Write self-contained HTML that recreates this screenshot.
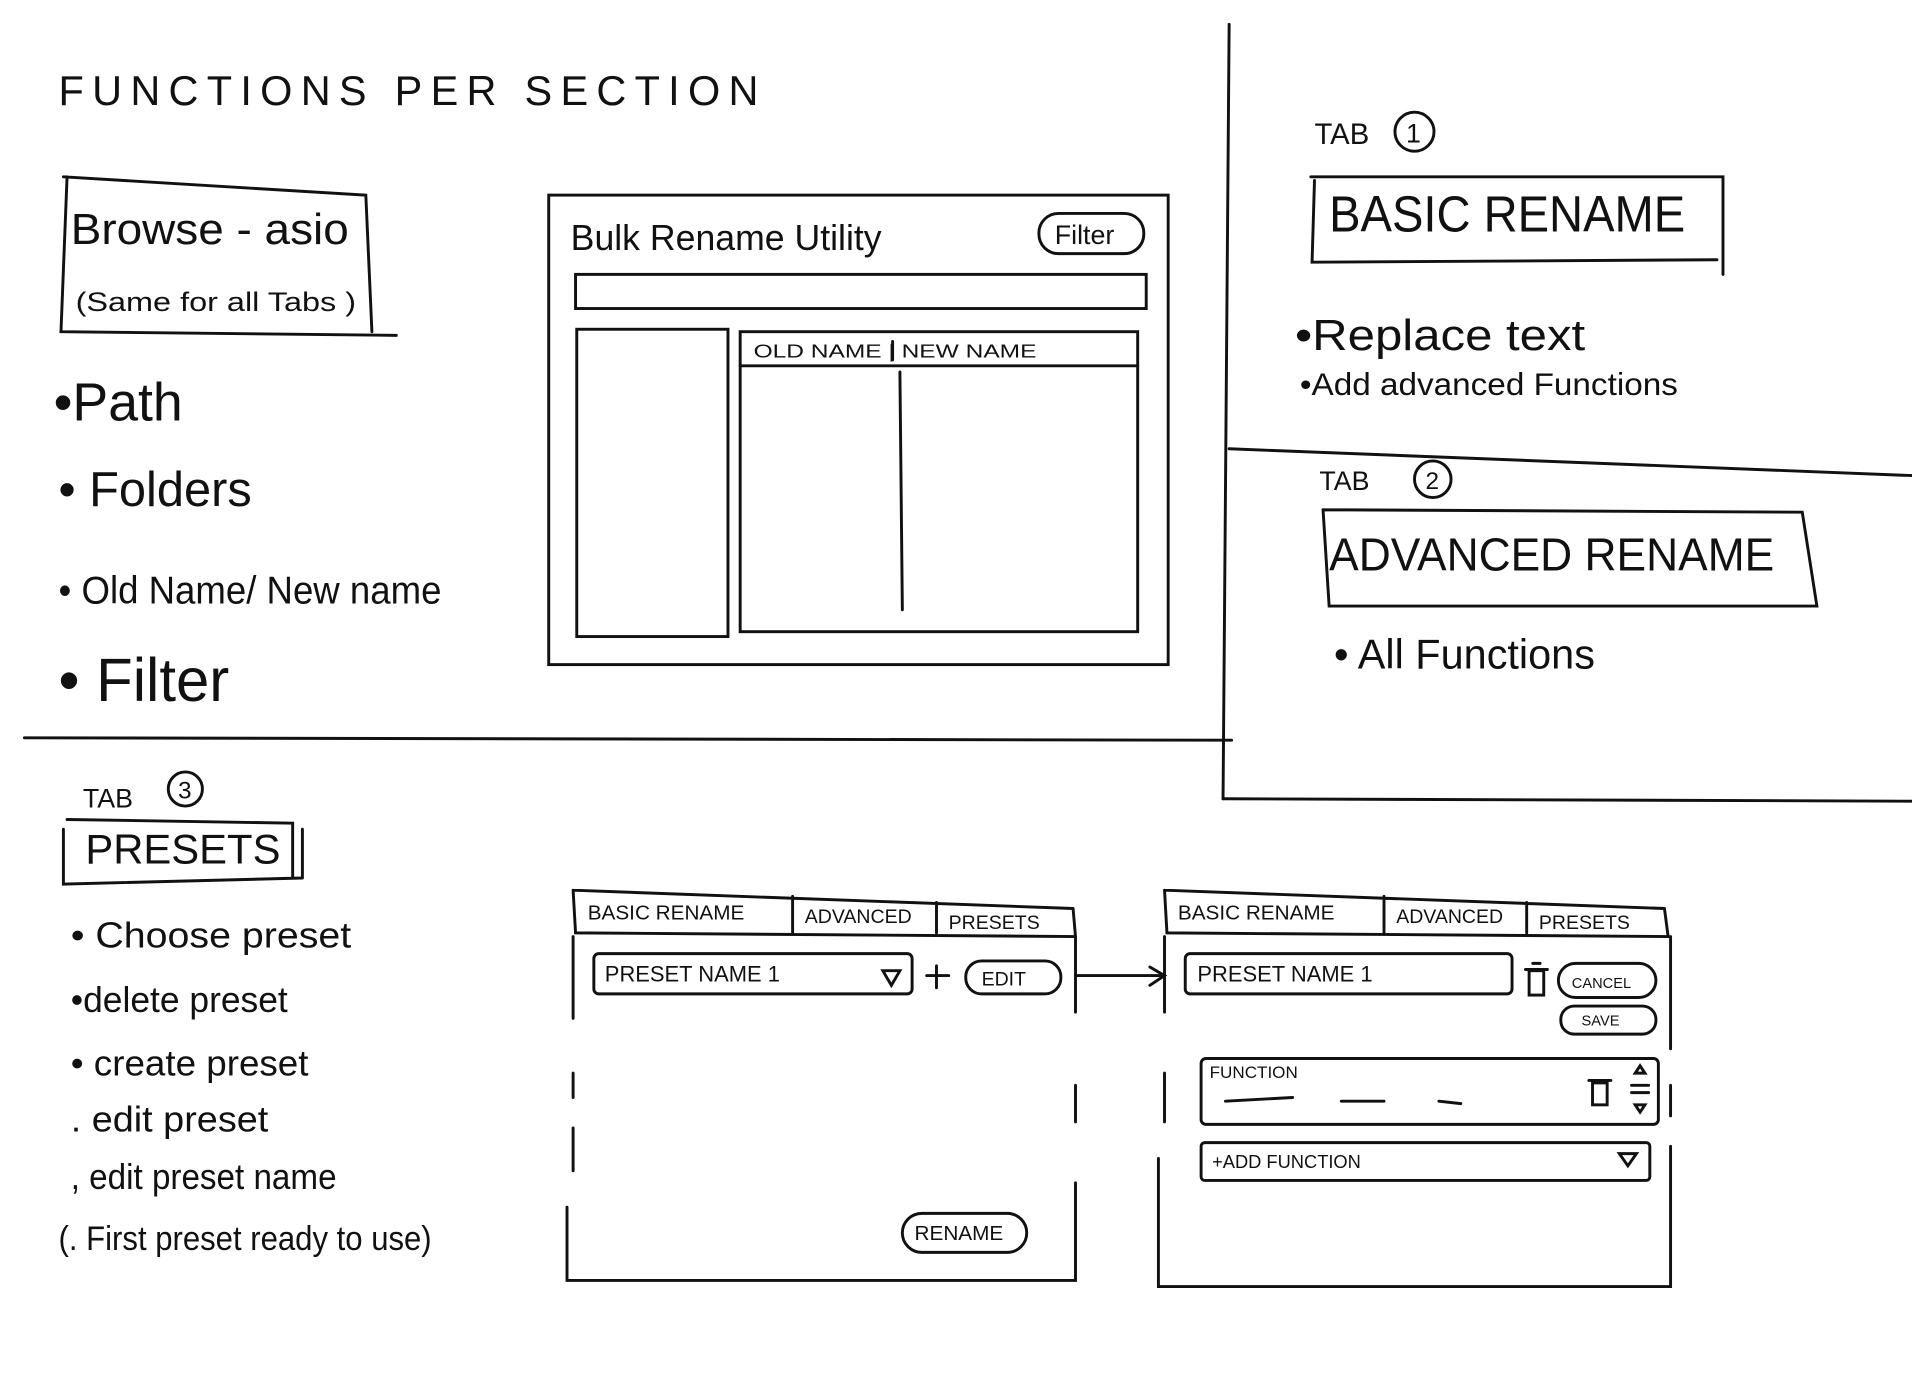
<!DOCTYPE html>
<html><head><meta charset="utf-8"><style>
html,body{margin:0;padding:0;background:#fff;width:1912px;height:1378px;overflow:hidden}
svg{display:block}
text{font-family:"Liberation Sans",sans-serif;fill:#111}
</style></head><body>
<svg width="1912" height="1378" viewBox="0 0 1568 1130" preserveAspectRatio="none" xmlns="http://www.w3.org/2000/svg">
<g fill="none" stroke="#111" stroke-width="2.4" stroke-linecap="round">
<path d="M1008 20 L1003 655"/>
<path d="M20 605 L1010 607"/>
<path d="M1003 655 L1568 657"/>
<path d="M1008 368 L1568 390"/>
<path d="M52 145 L300 160 L305 272 M55 145 L50 272 L325 275"/>
<rect x="450" y="160" width="508" height="385"/>
<rect x="852" y="175" width="86" height="33" rx="16"/>
<rect x="472" y="225" width="468" height="28"/>
<rect x="473" y="270" width="124" height="252"/>
<rect x="607" y="272" width="326" height="246"/>
<path d="M607 300 L933 300 M738 305 L740 500 M732 280 L732 295"/>
<circle cx="1160" cy="108" r="16"/>
<path d="M1075 145 L1413 145 L1413 225 M1078 148 L1076 215 L1408 213"/>
<circle cx="1175" cy="393" r="15"/>
<path d="M1085 418 L1478 420 L1490 497 L1090 497 L1085 418"/>
<circle cx="152" cy="647" r="14"/>
<path d="M55 672 L240 675 L240 720 M52 680 L52 725 L248 720 M248 680 L248 720"/>
<path d="M470 730 L880 745 M470 730 L472 765 L882 768 M650 735 L650 765 M768 740 L768 765 M880 745 L882 768"/>
<path d="M470 768 L470 835 M882 768 L882 830 M470 880 L470 900 M470 925 L470 960 M882 890 L882 920 M465 990 L465 1050 L882 1050 L882 970"/>
<rect x="487" y="782" width="261" height="33" rx="4"/>
<path d="M724 796 L738 796 L731 808 Z"/>
<path d="M760 800 L778 800 M768 792 L768 810"/>
<rect x="792" y="788" width="78" height="27" rx="13"/>
<rect x="740" y="995" width="102" height="32" rx="16"/>
<path d="M882 800 L955 800"/>
<path d="M943 793 L955 800 L943 808"/>
<path d="M955 730 L1365 745 M955 730 L957 765 L1368 768 M1135 735 L1135 765 M1252 740 L1252 765 M1365 745 L1368 768"/>
<path d="M955 768 L955 830 M1370 768 L1370 860 M955 880 L955 920 M1370 890 L1370 915 M950 950 L950 1055 L1370 1055 L1370 940"/>
<rect x="972" y="782" width="268" height="33" rx="4"/>
<rect x="1254" y="796" width="12" height="20"/><path d="M1251 795 L1269 795 M1257 790 L1263 790"/>
<rect x="1278" y="790" width="80" height="28" rx="14"/>
<rect x="1280" y="825" width="78" height="23" rx="11"/>
<rect x="985" y="868" width="375" height="54" rx="4"/>
<path d="M1005 903 L1060 900 M1100 903 L1135 903 M1180 903 L1198 905"/>
<rect x="1306" y="888" width="12" height="18"/><path d="M1303 886 L1321 886"/>
<path d="M1341 880 L1349 880 L1345 874Z M1341 906 L1349 906 L1345 912Z M1338 890 L1352 890 M1338 896 L1352 896"/>
<rect x="985" y="937" width="368" height="31" rx="3"/>
<path d="M1328 946 L1342 946 L1335 956 Z"/>
</g>
<g font-size="36">
<text x="48" y="86" font-size="34" textLength="574" lengthAdjust="spacing">FUNCTIONS PER SECTION</text>
<text x="58" y="200" font-size="36" textLength="228" lengthAdjust="spacingAndGlyphs">Browse - asio</text>
<text x="62" y="255" font-size="22" textLength="230" lengthAdjust="spacingAndGlyphs">(Same for all Tabs )</text>
<text x="44" y="345" font-size="44">•Path</text>
<text x="48" y="415" font-size="40">• Folders</text>
<text x="48" y="495" font-size="32" textLength="314" lengthAdjust="spacingAndGlyphs">• Old Name/ New name</text>
<text x="48" y="575" font-size="50" textLength="140" lengthAdjust="spacingAndGlyphs">• Filter</text>
<text x="468" y="205" font-size="30" textLength="255" lengthAdjust="spacingAndGlyphs">Bulk Rename Utility</text>
<text x="865" y="200" font-size="22">Filter</text>
<text x="618" y="293" font-size="15" textLength="232" lengthAdjust="spacingAndGlyphs">OLD NAME  |  NEW NAME</text>
<text x="1078" y="118" font-size="24">TAB</text>
<text x="1153" y="117" font-size="22">1</text>
<text x="1090" y="190" font-size="42" textLength="292" lengthAdjust="spacingAndGlyphs">BASIC RENAME</text>
<text x="1062" y="287" font-size="36" textLength="238" lengthAdjust="spacingAndGlyphs">•Replace text</text>
<text x="1066" y="324" font-size="26" textLength="310" lengthAdjust="spacingAndGlyphs">•Add advanced Functions</text>
<text x="1082" y="402" font-size="22">TAB</text>
<text x="1169" y="401" font-size="20">2</text>
<text x="1090" y="468" font-size="38" textLength="365" lengthAdjust="spacingAndGlyphs">ADVANCED RENAME</text>
<text x="1094" y="548" font-size="34" textLength="214" lengthAdjust="spacingAndGlyphs">• All Functions</text>
<text x="68" y="662" font-size="22">TAB</text>
<text x="146" y="655" font-size="20">3</text>
<text x="70" y="708" font-size="34" textLength="160" lengthAdjust="spacingAndGlyphs">PRESETS</text>
<text x="58" y="777" font-size="30" textLength="230" lengthAdjust="spacingAndGlyphs">• Choose preset</text>
<text x="58" y="830" font-size="30" textLength="178" lengthAdjust="spacingAndGlyphs">•delete preset</text>
<text x="58" y="882" font-size="30" textLength="195" lengthAdjust="spacingAndGlyphs">• create preset</text>
<text x="58" y="928" font-size="30" textLength="162" lengthAdjust="spacingAndGlyphs">. edit preset</text>
<text x="58" y="975" font-size="30" textLength="218" lengthAdjust="spacingAndGlyphs">, edit preset name</text>
<text x="48" y="1025" font-size="28" textLength="306" lengthAdjust="spacingAndGlyphs">(. First preset ready to use)</text>
<text x="482" y="754" font-size="17">BASIC RENAME</text>
<text x="660" y="757" font-size="16">ADVANCED</text>
<text x="778" y="762" font-size="16">PRESETS</text>
<text x="496" y="805" font-size="18">PRESET NAME 1</text>
<text x="805" y="808" font-size="16">EDIT</text>
<text x="750" y="1017" font-size="17">RENAME</text>
<text x="966" y="754" font-size="17">BASIC RENAME</text>
<text x="1145" y="757" font-size="16">ADVANCED</text>
<text x="1262" y="762" font-size="16">PRESETS</text>
<text x="982" y="805" font-size="18">PRESET NAME 1</text>
<text x="1289" y="810" font-size="12">CANCEL</text>
<text x="1297" y="841" font-size="12">SAVE</text>
<text x="992" y="884" font-size="14">FUNCTION</text>
<text x="994" y="958" font-size="15">+ADD  FUNCTION</text>
</g>
</svg>
</body></html>
